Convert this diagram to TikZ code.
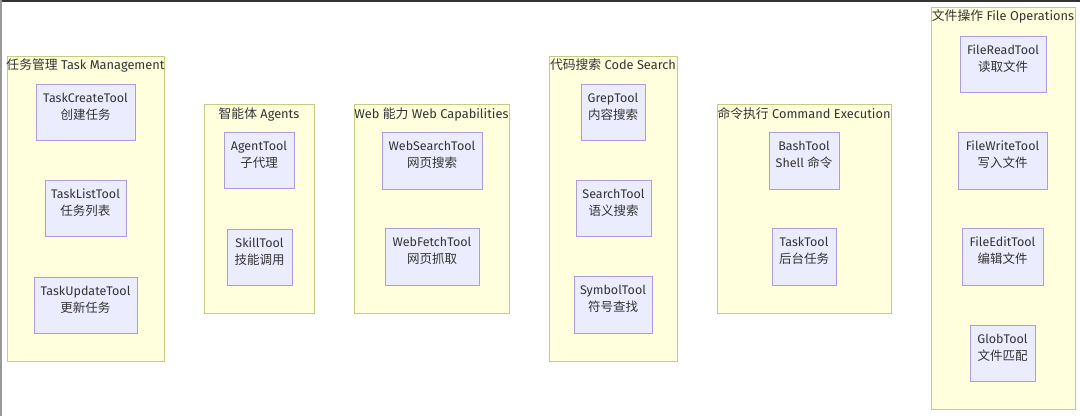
\documentclass[tikz,border=0pt]{standalone}
\usepackage{fontspec}
\setmainfont{Fira Sans}
\newfontfamily\cjk{Noto Sans CJK SC}
\definecolor{clfill}{HTML}{FFFFDE}
\definecolor{cldraw}{HTML}{C5CC82}
\definecolor{ndfill}{HTML}{ECECFF}
\definecolor{nddraw}{HTML}{AC9BDF}
\definecolor{txt}{HTML}{333333}
\tikzset{
  cluster/.style={draw=cldraw, fill=clfill, line width=1pt, inner sep=0pt, rectangle},
  tool/.style={draw=nddraw, fill=ndfill, line width=1pt, inner sep=0pt, rectangle, minimum height=56pt,
    align=center, text=txt, text depth=12pt, font=\fontsize{12.5}{17}\selectfont},
  ctitle/.style={inner sep=0pt, text=txt, font=\fontsize{12.8}{15}\selectfont}
}
\begin{document}
\begin{tikzpicture}[x=1pt,y=-1pt]
\useasboundingbox (0,0) rectangle (1080,416);
\fill[white] (0,0) rectangle (1080,416);
\draw[color=black!80, line width=2pt] (0,1) -- (1080,1);
\draw[color=black!40, line width=1.5pt] (0.75,0) -- (0.75,416);

% clusters
\node[cluster, minimum width=157pt, minimum height=305pt] (cTask) at (85.5,208.5) {};
\node[cluster, minimum width=110pt, minimum height=209pt] (cAgent) at (259,208.5) {};
\node[cluster, minimum width=155pt, minimum height=209pt] (cWeb) at (431.5,208.5) {};
\node[cluster, minimum width=128pt, minimum height=305pt] (cCode) at (613,208.5) {};
\node[cluster, minimum width=174pt, minimum height=209pt] (cCmd) at (804,208.5) {};
\node[cluster, minimum width=144pt, minimum height=402pt] (cFile) at (1003,208) {};

% titles
\node[ctitle] (tTask) at (85.5,65) {{\cjk 任务管理} Task Management};
\node[ctitle] (tAgent) at (259,114) {{\cjk 智能体} Agents};
\node[ctitle] (tWeb) at (431.5,114) {Web {\cjk 能力} Web Capabilities};
\node[ctitle] (tCode) at (613,65) {{\cjk 代码搜索} Code Search};
\node[ctitle] (tCmd) at (804,114) {{\cjk 命令执行} Command Execution};
\node[ctitle] (tFile) at (1003,16) {{\cjk 文件操作} File Operations};

% task management
\node[tool, minimum width=99pt] (taskcreate) at (85.5,112) {TaskCreateTool\\{\cjk 创建任务}};
\node[tool, minimum width=81pt] (tasklist) at (85.5,208) {TaskListTool\\{\cjk 任务列表}};
\node[tool, minimum width=103pt] (taskupdate) at (85.5,305) {TaskUpdateTool\\{\cjk 更新任务}};

% agents
\node[tool, minimum width=70pt] (agent) at (259,160) {AgentTool\\{\cjk 子代理}};
\node[tool, minimum width=65pt] (skill) at (259.5,257) {SkillTool\\{\cjk 技能调用}};

% web
\node[tool, minimum width=100pt, minimum height=57pt] (websearch) at (432,160.5) {WebSearchTool\\{\cjk 网页搜索}};
\node[tool, minimum width=94pt, minimum height=57pt] (webfetch) at (432,256.5) {WebFetchTool\\{\cjk 网页抓取}};

% code search
\node[tool, minimum width=64pt] (grep) at (613,112) {GrepTool\\{\cjk 内容搜索}};
\node[tool, minimum width=75pt] (search) at (613.5,208) {SearchTool\\{\cjk 语义搜索}};
\node[tool, minimum width=78pt, minimum height=57pt] (symbol) at (613,304.5) {SymbolTool\\{\cjk 符号查找}};

% command execution
\node[tool, minimum width=70pt, minimum height=57pt] (bash) at (804,160.5) {BashTool\\Shell {\cjk 命令}};
\node[tool, minimum width=64pt, minimum height=57pt] (tasktool) at (804,256.5) {TaskTool\\{\cjk 后台任务}};

% file operations
\node[tool, minimum width=86pt] (fileread) at (1003,64) {FileReadTool\\{\cjk 读取文件}};
\node[tool, minimum width=89pt, minimum height=57pt] (filewrite) at (1002.5,160.5) {FileWriteTool\\{\cjk 写入文件}};
\node[tool, minimum width=81pt, minimum height=57pt] (fileedit) at (1002.5,256.5) {FileEditTool\\{\cjk 编辑文件}};
\node[tool, minimum width=65pt] (glob) at (1002.5,353) {GlobTool\\{\cjk 文件匹配}};
\end{tikzpicture}
\end{document}
